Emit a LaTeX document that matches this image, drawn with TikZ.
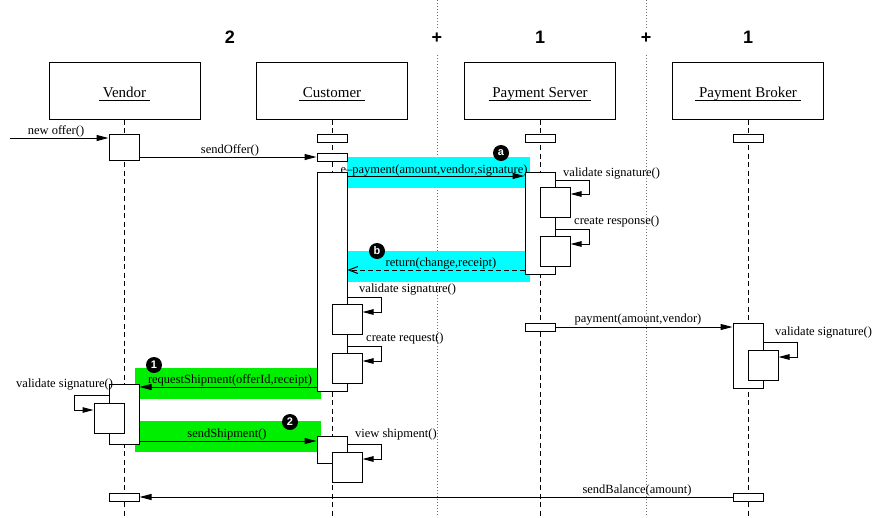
\documentclass[tikz,border=0pt]{standalone}
\usepackage{fontspec}
\setmainfont{Liberation Serif}
\newfontfamily\headfont{Liberation Sans}
\usetikzlibrary{arrows.meta}
\definecolor{hlcyan}{RGB}{0,255,255}
\definecolor{hlgreen}{RGB}{0,238,0}
\definecolor{sepgray}{RGB}{110,110,110}

\begin{document}
\begin{tikzpicture}[x=1pt,y=-1pt,
  actor/.style={draw, line width=1pt, fill=white, minimum width=151pt, minimum height=57pt, inner sep=0pt},
  hdr/.style={font=\fontsize{15}{17}\selectfont, anchor=base, inner xsep=3.5pt, inner ysep=0pt},
  mult/.style={font=\headfont\bfseries\fontsize{18}{20}\selectfont, anchor=base, inner sep=0pt},
  act/.style={draw, line width=1pt, fill=white, inner sep=0pt, minimum width=30pt},
  lifeline/.style={line width=0.9pt, dash pattern=on 5pt off 3.5pt},
  sep/.style={line width=0.9pt, sepgray, dash pattern=on 1pt off 2pt},
  msg/.style={line width=1pt, -{Triangle[length=12pt,width=6pt]}},
  selfcall/.style={line width=1pt, -{Triangle[length=11pt,width=5.5pt]}},
  reply/.style={line width=1pt, dash pattern=on 5pt off 3pt, -{Straight Barb[length=9pt,width=7pt]}},
  lbl/.style={font=\fontsize{12.5}{14}\selectfont, inner sep=0pt, anchor=base},
  lbll/.style={lbl, anchor=base west},
  badge/.style={circle, fill=black, text=white, inner sep=0pt, minimum size=16pt, font=\headfont\bfseries\fontsize{11}{12}\selectfont}
]
\useasboundingbox (0,0) rectangle (873,517);

% separators between the object groups
\draw[sep] (437,0) -- (437,30);
\draw[sep] (437,55) -- (437,517);
\draw[sep] (646,0) -- (646,30);
\draw[sep] (646,55) -- (646,517);

% multiplicities
\node[mult] (m1) at (230,43) {2};
\node[mult] (m2) at (437,43) {+};
\node[mult] (m3) at (540,43) {1};
\node[mult] (m4) at (646,43) {+};
\node[mult] (m5) at (748,43) {1};

% highlighted message bands
\fill[hlcyan] (347,157) rectangle (530,188);
\fill[hlcyan] (347,251) rectangle (530,282);
\fill[hlgreen] (135,368) rectangle (321,399);
\fill[hlgreen] (135,421) rectangle (321,452);

% objects
\node[actor] (vendor) at (124.5,90.5) {};
\node[actor] (customer) at (332,90.5) {};
\node[actor] (server) at (540,90.5) {};
\node[actor] (broker) at (748,90.5) {};
\foreach \o/\t in {vendor/Vendor, customer/Customer, server/Payment Server, broker/Payment Broker}{
  \node[hdr] (\o lbl) at (\o |- 0,97) {\t};
  \draw[line width=0.9pt] ([yshift=-3pt]\o lbl.base west) -- ([yshift=-3pt]\o lbl.base east);
}

% lifelines
\foreach \o in {vendor, customer, server, broker}
  \draw[lifeline] (\o.south) -- (\o.south |- 0,517);

% activations
\node[act, minimum height=26pt] (v1) at (124,147) {};
\node[act, minimum height=8pt] (c0) at (332,138) {};
\node[act, minimum height=8pt] (c1) at (332,157) {};
\node[act, minimum height=219pt] (c2) at (332,281.5) {};
\node[act, minimum height=8pt] (p0) at (540,138) {};
\node[act, minimum height=102pt] (p1) at (540,223) {};
\node[act, minimum height=30pt] (p1a) at (555,202) {};
\node[act, minimum height=30pt] (p1b) at (555,251) {};
\node[act, minimum height=8pt] (b0) at (748,138) {};
\node[act, minimum height=30pt] (c2a) at (347,319) {};
\node[act, minimum height=30pt] (c2b) at (347,368.5) {};
\node[act, minimum height=8pt] (p2) at (540,327) {};
\node[act, minimum height=65pt] (b1) at (748,355.5) {};
\node[act, minimum height=30pt] (b1a) at (763,365) {};
\node[act, minimum height=60pt] (v2) at (124,414) {};
\node[act, minimum height=30pt] (v2a) at (109,418) {};
\node[act, minimum height=27pt] (c3) at (332,449.5) {};
\node[act, minimum height=30pt] (c3a) at (347,467) {};
\node[act, minimum height=8pt] (v3) at (124,497) {};
\node[act, minimum height=8pt] (b2) at (748,497) {};

% messages
\coordinate (start) at (10,138);
\draw[msg] (start) -- (start -| v1.west);
\node[lbl] (l1) at (56,134) {new offer()};

\draw[msg] (v1.east |- c1) -- (c1.west);
\node[lbl] (l2) at (230,153) {sendOffer()};

\draw[msg] (c2.east |- 0,176) -- (p1.west |- 0,176);
\node[lbl] (l3) at (434,173) {e--payment(amount,vendor,signature)};

\draw[selfcall] (p1.east |- 0,180) -- ++(34,0) |- (p1a.east |- 0,194);
\node[lbll] (l4) at (563,176) {validate signature()};

\draw[selfcall] (p1.east |- 0,229) -- ++(34,0) |- (p1b.east |- 0,244);
\node[lbll] (l5) at (574,224) {create response()};

\draw[reply] (p1.west |- 0,270) -- (c2.east |- 0,270);
\node[lbl] (l6) at (441,266) {return(change,receipt)};

\draw[selfcall] (c2.east |- 0,297) -- ++(34,0) |- (c2a.east |- 0,312);
\node[lbll] (l7) at (359,292) {validate signature()};

\draw[selfcall] (c2.east |- 0,346) -- ++(34,0) |- (c2b.east |- 0,361);
\node[lbll] (l8) at (366,341) {create request()};

\draw[msg] (p2.east) -- (b1.west |- p2);
\node[lbl] (l9) at (638,322) {payment(amount,vendor)};

\draw[selfcall] (b1.east |- 0,342) -- ++(34,0) |- (b1a.east |- 0,357);
\node[lbll] (l10) at (775,335) {validate signature()};

\draw[msg] (c2.west |- 0,387) -- (v2.east |- 0,387);
\node[lbl] (l11) at (230,383) {requestShipment(offerId,receipt)};

\draw[selfcall] (v2.west |- 0,395) -- ++(-34,0) |- (v2a.west |- 0,410);
\node[lbll] (l12) at (16,387) {validate signature()};

\draw[msg] (v2.east |- 0,441) -- (c3.west |- 0,441);
\node[lbl] (l13) at (227,437) {sendShipment()};

\draw[selfcall] (c3.east |- 0,444) -- ++(34,0) |- (c3a.east |- 0,459);
\node[lbll] (l14) at (355,437) {view shipment()};

\draw[msg] (b2.west) -- (v3.east);
\node[lbl] (l15) at (637,493) {sendBalance(amount)};

% band markers
\node[badge] (ba) at (501,153) {a};
\node[badge] (bb) at (377,251) {b};
\node[badge] (b1n) at (154,365) {1};
\node[badge] (b2n) at (290,422) {2};
\end{tikzpicture}
\end{document}
